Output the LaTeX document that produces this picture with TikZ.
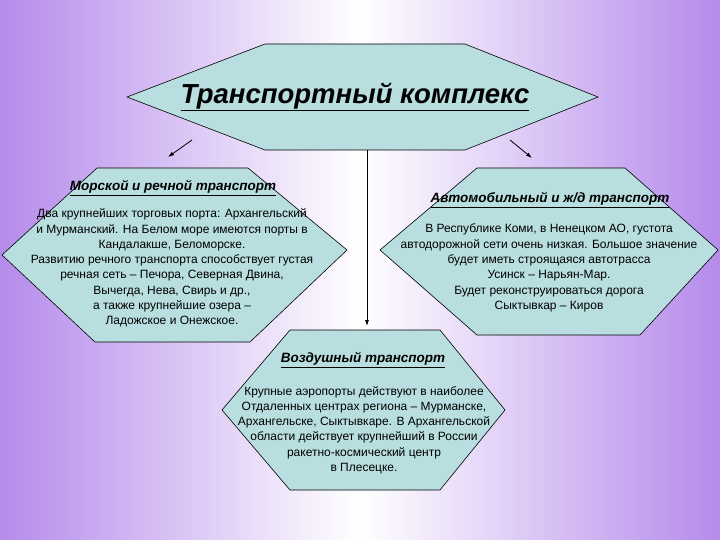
\documentclass[tikz,border=0pt]{standalone}
\usepackage{fontspec}
\setmainfont{Liberation Sans}
\usetikzlibrary{arrows.meta}
\definecolor{hexfill}{HTML}{B9DEE0}
\definecolor{lil}{HTML}{B58BEB}
\begin{document}
\begin{tikzpicture}[x=1pt,y=-1pt,
  hex/.style={draw=black,fill=hexfill,line width=0.6pt},
  ttl/.style={font=\fontsize{13.5}{15}\selectfont\bfseries\itshape},
  body/.style={align=center,font=\fontsize{12}{15.3}\selectfont},
  arr/.style={-{Latex[length=6pt,width=4pt]},line width=0.8pt}]
\shade[left color=lil,right color=lil,middle color=white] (0,0) rectangle (720,540);
\useasboundingbox (0,0) rectangle (720,540);
\draw[hex] (127,97) -- (265,44) -- (465,44) -- (598,97) -- (465,150) -- (265,150) -- cycle;
\node[font=\fontsize{27.5}{30}\selectfont\bfseries\itshape] (t) at (355,97) {\underline{Транспортный комплекс}};
\draw[hex] (2,255) -- (97,168) -- (248,168) -- (347,250) -- (250,342) -- (95,342) -- cycle;
\draw[hex] (380,250) -- (477,168) -- (625,168) -- (718,250) -- (640,335) -- (477,335) -- cycle;
\draw[hex] (222,410) -- (290,330) -- (440,330) -- (505,410) -- (440,490) -- (290,490) -- cycle;
\node[ttl] (l1) at (173,188) {\underline{Морской и речной транспорт}};
\node[body] (l2) at (172,268) {Два крупнейших торговых порта: Архангельский\\и Мурманский. На Белом море имеются порты в\\Кандалакше, Беломорске.\\Развитию речного транспорта способствует густая\\речная сеть – Печора, Северная Двина,\\Вычегда, Нева, Свирь и др.,\\а также крупнейшие озера –\\Ладожское и Онежское.};
\node[ttl] (r1) at (550,200) {\underline{Автомобильный и ж/д транспорт}};
\node[body] (r2) at (549,268) {В Республике Коми, в Ненецком АО, густота\\автодорожной сети очень низкая. Большое значение\\будет иметь строящаяся автотрасса\\Усинск – Нарьян-Мар.\\Будет реконструироваться дорога\\Сыктывкар – Киров};
\node[ttl] (b1) at (363,360) {\underline{Воздушный транспорт}};
\node[body] (b2) at (364,430) {Крупные аэропорты действуют в наиболее\\Отдаленных центрах региона – Мурманске,\\Архангельске, Сыктывкаре. В Архангельской\\области действует крупнейший в России\\ракетно-космический центр\\в Плесецке.};
\coordinate (a1) at (192,140); \coordinate (a2) at (168,157);
\coordinate (a3) at (510,140); \coordinate (a4) at (532,158);
\coordinate (a5) at (367,150); \coordinate (a6) at (367,326);
\draw[arr] (a1) -- (a2);
\draw[arr] (a3) -- (a4);
\draw[arr] (a5) -- (a6);
\end{tikzpicture}
\end{document}
